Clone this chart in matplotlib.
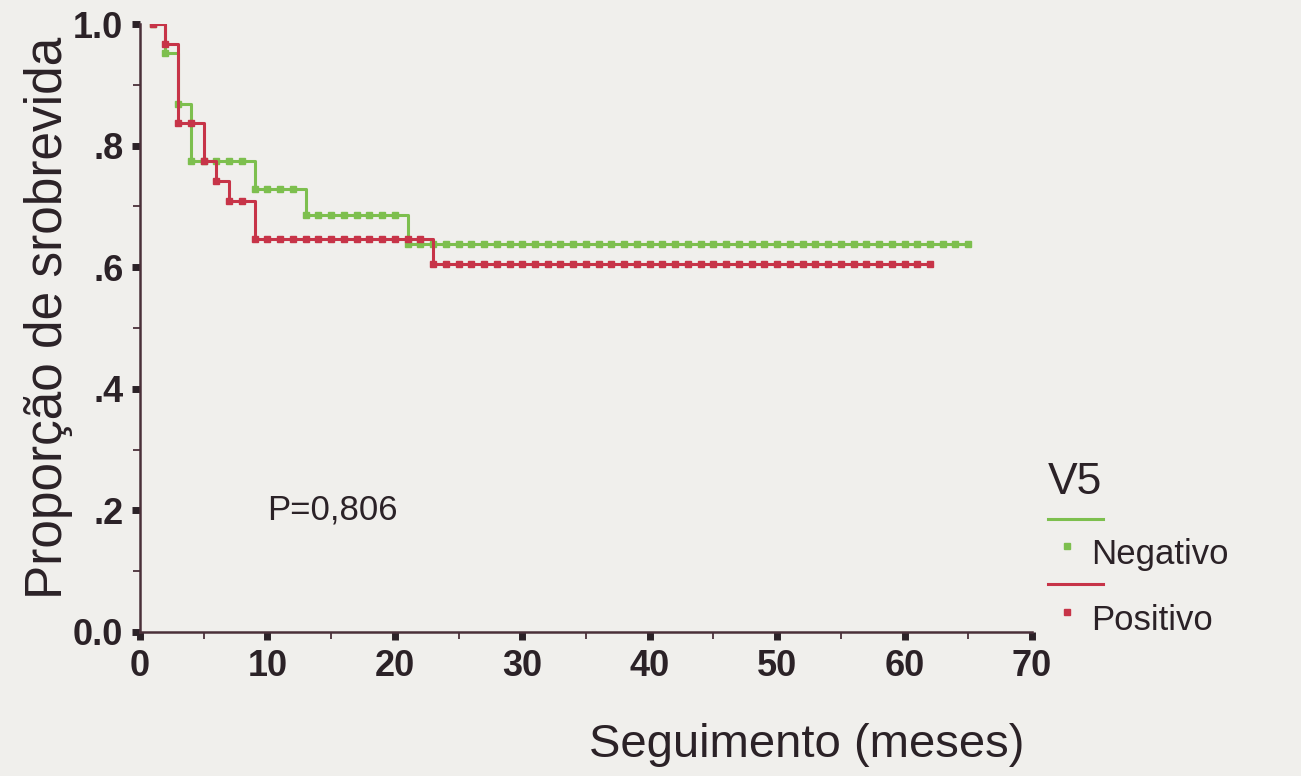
import numpy as np
import matplotlib
matplotlib.use("Agg")
from matplotlib import pyplot as plt
from matplotlib.lines import Line2D
from matplotlib import font_manager

# survival proportion read month by month (markers sit on every month)
neg_months = list(range(1, 66))
neg_surv = ([1.0, 0.952, 0.868, 0.775, 0.775, 0.775, 0.775, 0.775]
            + [0.728] * 4 + [0.686] * 8 + [0.639] * 45)

pos_months = list(range(1, 63))
pos_surv = ([1.0, 0.967, 0.838, 0.838, 0.774, 0.742, 0.709, 0.709]
            + [0.646] * 14 + [0.606] * 40)

x_ticks = [0, 10, 20, 30, 40, 50, 60, 70]
y_ticks = [0.0, 0.2, 0.4, 0.6, 0.8, 1.0]
y_ticklabels = ['0.0', '.2', '.4', '.6', '.8', '1.0']

green = '#7dbf4e'
red = '#c73448'
ink = '#2b2227'
spine = '#4a3039'
bg = '#f0efec'

plt.rcParams['font.family'] = ['Liberation Sans', 'DejaVu Sans']
names = {f.name for f in font_manager.fontManager.ttflist}
tick_family = 'Liberation Sans Narrow' if 'Liberation Sans Narrow' in names else 'Liberation Sans'

fig = plt.figure(figsize=(13.01, 7.76), dpi=100, facecolor=bg)
ax = fig.add_axes([0.1076, 0.1856, 0.6856, 0.7834])
ax.set_facecolor(bg)

ax.plot(neg_months, neg_surv, drawstyle='steps-post', color=green, lw=2.2,
        marker='s', ms=4.8, mec=green, mfc=green)
ax.plot(pos_months, pos_surv, drawstyle='steps-post', color=red, lw=2.2,
        marker='s', ms=4.8, mec=red, mfc=red)

ax.set_xlim(0, 70)
ax.set_ylim(0, 1.0)
ax.set_xticks(x_ticks)
ax.set_xticks([5, 15, 25, 35, 45, 55, 65], minor=True)
ax.set_yticks(y_ticks)
ax.set_yticklabels(y_ticklabels)
ax.set_yticks([0.1, 0.3, 0.5, 0.7, 0.9], minor=True)

for s in ['top', 'right']:
    ax.spines[s].set_visible(False)
for s in ['left', 'bottom']:
    ax.spines[s].set_color(spine)
    ax.spines[s].set_linewidth(1.8)

ax.tick_params(which='major', direction='out', length=6, width=5, color=ink,
               labelsize=26, labelcolor=ink, pad=6)
ax.tick_params(which='minor', direction='out', length=5, width=1.3, color=spine)
ax.tick_params(axis='y', which='major', pad=6)
for lab in ax.get_xticklabels() + ax.get_yticklabels():
    lab.set_fontweight('bold')
    lab.set_family(tick_family)

ax.text(10, 0.2, 'P=0,806', fontsize=25, color=ink, va='center', ha='left')

fig.text(0.0369, 0.590, 'Proporção de srobrevida', rotation=90, fontsize=37,
         color=ink, ha='center', va='center')
fig.text(0.620, 0.040, 'Seguimento (meses)', fontsize=34, color=ink,
         ha='center', va='center')

# legend drawn the way the original program lays it out
fig.text(0.826, 0.378, 'V5', fontsize=32, color=ink, ha='center', va='center')
fig.add_artist(Line2D([0.8055, 0.8478], [0.331, 0.331], color=green, lw=2.2,
                      transform=fig.transFigure))
fig.add_artist(Line2D([0.820], [0.296], color=green, marker='s', ms=4, lw=0,
                      transform=fig.transFigure))
fig.text(0.8386, 0.285, 'Negativo', fontsize=25, color=ink, ha='left', va='center')
fig.add_artist(Line2D([0.8055, 0.8478], [0.2474, 0.2474], color=red, lw=2.2,
                      transform=fig.transFigure))
fig.add_artist(Line2D([0.820], [0.2113], color=red, marker='s', ms=4, lw=0,
                      transform=fig.transFigure))
fig.text(0.8386, 0.201, 'Positivo', fontsize=25, color=ink, ha='left', va='center')

fig.savefig('out.png', dpi=100, facecolor=bg)
